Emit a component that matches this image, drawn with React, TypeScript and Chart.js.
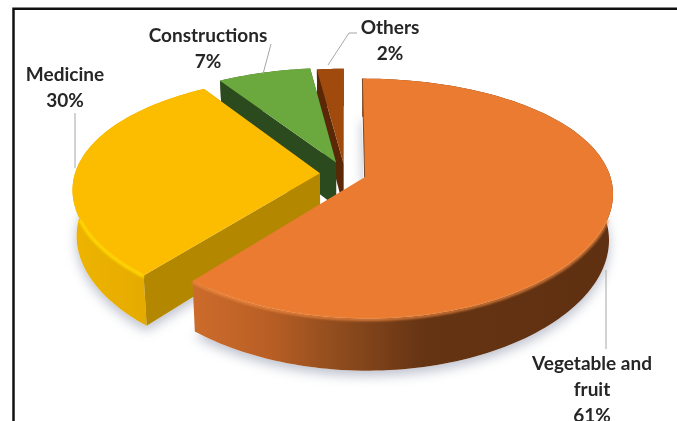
import React, { useEffect, useRef } from "react";
import { Chart, registerables } from "chart.js";

Chart.register(...registerables);

const categories = ["Vegetable and fruit", "Medicine", "Constructions", "Others"];
const shares = [61, 30, 7, 2];
const explode = [14, 17, 18, 15];

// Tilted-disc projection of the pie plane
const RX = 245;
const KY = 115;
const PERSP_Y = 0.176;
const PERSP_X = 0.13;
const WALL_BASE = 45;
const WALL_GROW = 7;

const topColors = ["#ea7b30", "#fcbc00", "#6ba83e", "#a04a0e"];
const cutColors = ["#7a3d14", "#b38800", "#2b4a1e", "#5a2806"];
const wallStops: [number, string][][] = [
  [[0, "#cc6c2b"], [0.18, "#b95f25"], [0.36, "#8c4a1d"], [0.55, "#653413"], [1, "#5f3011"]],
  [[0, "#eeb400"], [1, "#dea300"]],
  [[0, "#3f6a2a"], [1, "#3f6a2a"]],
  [[0, "#6a3008"], [1, "#6a3008"]],
];
const rimColors = ["rgba(240,138,66,0.75)", "#ffd800", "#7cb94f", "#b3581a"];

const FONT = "bold 19px Lato";
const labelLines = [
  { cat: 0, x: 592, y: 364, extra: `${shares[0]}%` },
  { cat: 1, x: 65, y: 75, extra: `${shares[1]}%` },
  { cat: 2, x: 208, y: 36, extra: `${shares[2]}%` },
  { cat: 3, x: 390, y: 28, extra: `${shares[3]}%` },
];
const leaders: [number, number][][] = [
  [[606, 270], [606, 349]],
  [[75, 113], [75, 168]],
  [[271, 44], [263, 74]],
  [[357, 33], [349, 33], [328, 65]],
];

const project = (a: any, u: number, v: number, z: number): [number, number] => {
  const x = (u * RX) / (1 - PERSP_X * v);
  const y = (v * KY) / (1 - PERSP_Y * v);
  return [a.x + x * (1 - 0.015 * z), a.y + y + z * (WALL_BASE + WALL_GROW * v)];
};

const tracePoly = (ctx: CanvasRenderingContext2D, pts: [number, number][]) => {
  ctx.beginPath();
  pts.forEach((p, i) => (i ? ctx.lineTo(p[0], p[1]) : ctx.moveTo(p[0], p[1])));
  ctx.closePath();
};

const sliceGeometry = (a: any, offset: number) => {
  const mid = (a.startAngle + a.endAngle) / 2;
  const e = offset / a.outerRadius;
  const ou = Math.cos(mid) * e;
  const ov = Math.sin(mid) * e;
  const steps = Math.max(6, Math.ceil((a.endAngle - a.startAngle) * 40));
  const angles: number[] = [];
  for (let i = 0; i <= steps; i++) angles.push(a.startAngle + ((a.endAngle - a.startAngle) * i) / steps);
  const at = (t: number, z: number) => project(a, ou + Math.cos(t), ov + Math.sin(t), z);
  return {
    apex: (z: number) => project(a, ou, ov, z),
    topRim: angles.map((t) => at(t, 0)),
    lowRim: angles.map((t) => at(t, 1)),
  };
};

const disc3d = {
  id: "disc3d",
  beforeDatasetDraw(chart: any) {
    const ctx: CanvasRenderingContext2D = chart.ctx;
    const arcs = chart.getDatasetMeta(0).data;
    const order = [3, 2, 1, 0];

    // Soft cast shadow under the front of the disc
    ctx.save();
    ctx.shadowColor = "rgba(90,100,130,0.4)";
    ctx.shadowBlur = 12;
    ctx.shadowOffsetY = 5;
    ctx.fillStyle = "#ffffff";
    [1, 0].forEach((i) => {
      const g = sliceGeometry(arcs[i], arcs[i].options.offset);
      tracePoly(ctx, g.lowRim.concat([g.apex(1)]));
      ctx.fill();
    });
    ctx.restore();

    order.forEach((i) => {
      const a = arcs[i];
      const g = sliceGeometry(a, a.options.offset);
      const apex0 = g.apex(0);
      const apex1 = g.apex(1);

      // Curved outer wall
      const xs = g.topRim.map((p) => p[0]);
      const grad = ctx.createLinearGradient(Math.min(...xs), 0, Math.max(...xs), 0);
      wallStops[i].forEach(([s, c]) => grad.addColorStop(s, c));
      ctx.fillStyle = grad;
      tracePoly(ctx, g.topRim.concat(g.lowRim.slice().reverse()));
      ctx.fill();

      // Flat cut faces; the largest slice turns both of its faces away from view
      if (i > 0) {
        ctx.fillStyle = cutColors[i];
        [0, g.topRim.length - 1].forEach((k) => {
          tracePoly(ctx, [apex0, g.topRim[k], g.lowRim[k], apex1]);
          ctx.fill();
        });
      }

      // Top face
      ctx.fillStyle = topColors[i];
      tracePoly(ctx, [apex0, ...g.topRim]);
      ctx.fill();

      // Bevel along the front of the rim on the two large slices
      if (i < 2) {
        ctx.save();
        ctx.filter = "blur(1.2px)";
        ctx.strokeStyle = rimColors[i];
        ctx.lineWidth = 3;
        ctx.beginPath();
        let open = false;
        g.topRim.forEach((p) => {
          if (p[1] > a.y + 45) {
            if (open) ctx.lineTo(p[0], p[1] + 1);
            else ctx.moveTo(p[0], p[1] + 1);
            open = true;
          } else {
            open = false;
          }
        });
        ctx.stroke();
        ctx.restore();
      }
      if (i === 0) {
        ctx.strokeStyle = "#7a4a2a";
        ctx.lineWidth = 1;
        ctx.beginPath();
        ctx.moveTo(apex0[0], apex0[1]);
        ctx.lineTo(g.topRim[0][0], g.topRim[0][1]);
        ctx.stroke();
      }
    });
    return false;
  },
  afterDraw(chart: any) {
    const ctx: CanvasRenderingContext2D = chart.ctx;

    // Frame: only its top and left sides fall inside the canvas
    ctx.save();
    ctx.strokeStyle = "#111111";
    ctx.lineWidth = 2.5;
    ctx.beginPath();
    ctx.moveTo(13.5, 421);
    ctx.lineTo(13.5, 8.75);
    ctx.lineTo(677, 8.75);
    ctx.stroke();

    ctx.strokeStyle = "#a6a6a6";
    ctx.lineWidth = 1;
    leaders.forEach((pts) => {
      ctx.beginPath();
      pts.forEach((p, i) => (i ? ctx.lineTo(p[0], p[1]) : ctx.moveTo(p[0], p[1])));
      ctx.stroke();
    });

    ctx.fillStyle = "#262626";
    ctx.font = FONT;
    ctx.textAlign = "center";
    ctx.textBaseline = "middle";
    labelLines.forEach((l) => {
      const rows =
        l.cat === 0
          ? ["Vegetable and", "fruit", l.extra]
          : [categories[l.cat], l.extra];
      rows.forEach((r, k) => ctx.fillText(r, l.x, l.y + k * 26));
    });
    ctx.restore();
  },
};

export default function App() {
  const ref = useRef<HTMLCanvasElement>(null);
  useEffect(() => {
    document.body.style.margin = "0";
    const chart = new Chart(ref.current as HTMLCanvasElement, {
      type: "pie",
      data: {
        labels: categories,
        datasets: [{ data: shares, offset: explode, backgroundColor: topColors, borderWidth: 0 }],
      },
      options: {
        responsive: false,
        animation: false,
        layout: { padding: { left: 13, right: 0, top: 0, bottom: 73 } },
        plugins: { legend: { display: false }, tooltip: { enabled: false } },
      },
      plugins: [disc3d],
    } as any);
    return () => chart.destroy();
  }, []);
  return <canvas ref={ref} width={677} height={421} style={{ display: "block", background: "#ffffff" }} />;
}
